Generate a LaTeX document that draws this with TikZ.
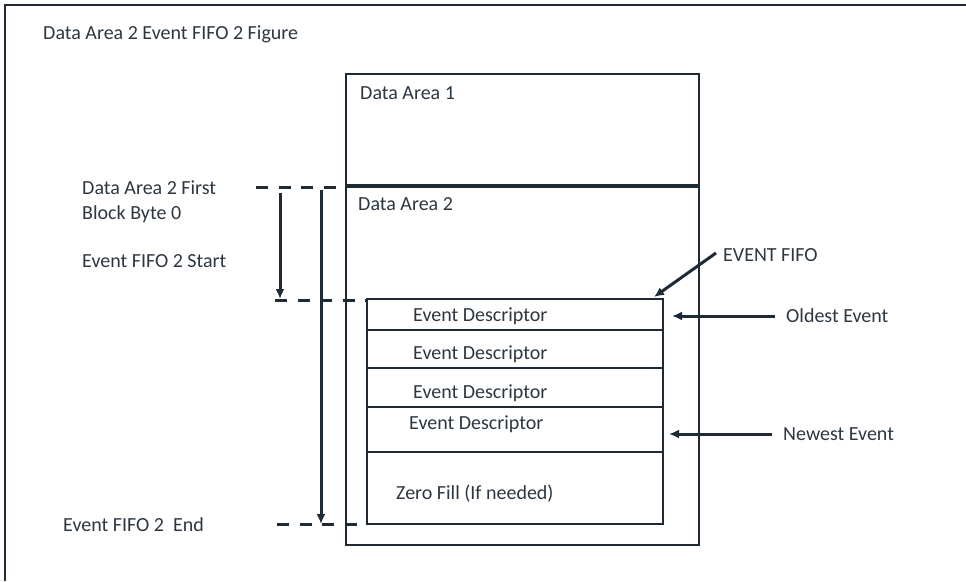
\documentclass[tikz,border=0pt]{standalone}
\usepackage{fontspec}
\setmainfont{Carlito}
\usetikzlibrary{arrows.meta}
\definecolor{ln}{RGB}{30,42,54}
\definecolor{tx}{RGB}{45,55,65}
\begin{document}
\begin{tikzpicture}[x=1pt,y=-1pt,
  lbl/.style={anchor=base west,inner sep=0pt,text=tx,font=\fontsize{20}{24}\selectfont},
  box/.style={draw=ln,line width=2.3pt},
  dsh/.style={draw=ln,line width=3pt,dash pattern=on 12pt off 10.5pt},
  arr/.style={draw=ln,line width=3pt,-{Latex[length=10pt,width=9pt]}}]
\useasboundingbox (0,0) rectangle (966,581);
\fill[white] (0,0) rectangle (966,581);
% outer frame (top and left edges visible)
\draw[ln,line width=2pt] (5,581) -- (5,5) -- (966,5);
\node[lbl] (title) at (43,39.5) {Data Area 2 Event FIFO 2 Figure};
% data areas
\draw[box] (346,74) rectangle (699,186);
\draw[box] (346,186) rectangle (699,545);
\draw[ln,line width=3.5pt] (345,186) -- (700,186);
\coordinate (da2tl) at (346,187);
\coordinate (da2nw) at (346,300);
\node[lbl] (da1) at (360,99.5) {Data Area 1};
\node[lbl] (da2) at (358,210.5) {Data Area 2};
% FIFO box
\coordinate (fnw) at (367,300);
\coordinate (fne) at (663,299);
\coordinate (fsw) at (367,524);
\draw[box] (367,299) rectangle (663,524);
\foreach \yy in {330,368,407,452} \draw[box] (367,\yy) -- (663,\yy);
\node[lbl] (ed1) at (413,321.5) {Event Descriptor};
\node[lbl] (ed2) at (413,359.5) {Event Descriptor};
\node[lbl] (ed3) at (413,398.5) {Event Descriptor};
\node[lbl] (ed4) at (409,429.5) {Event Descriptor};
\node[lbl] (zf) at (396,499.5) {Zero Fill (If needed)};
% left labels
\node[lbl] (l1) at (82,194.5) {Data Area 2 First};
\node[lbl] (l2) at (82,219) {Block Byte 0};
\node[lbl] (l3) at (82,267.5) {Event FIFO 2 Start};
\node[lbl] (l4) at (63,531.5) {Event FIFO 2\ \ End};
% dashed markers
\coordinate (d1s) at (256,187);
\coordinate (d2s) at (275,300);
\coordinate (d3s) at (277,524);
\draw[dsh] (d1s) -- (da2tl);
\draw[dsh] (d2s) -- (fnw);
\draw[dsh] (d3s) -- (fsw);
% vertical arrows
\coordinate (a1s) at (280,193);
\coordinate (a1e) at (280,299);
\draw[arr] (a1s) -- (a1e);
\coordinate (a2s) at (321,190);
\coordinate (a2e) at (321,524);
\draw[arr] (a2s) -- (a2e);
% right labels and arrows
\node[lbl] (ef) at (723,261.5) {EVENT FIFO};
\node[lbl] (old) at (786,322.5) {Oldest Event};
\node[lbl] (new) at (783,440.5) {Newest Event};
\coordinate (efs) at (716,253);
\coordinate (efe) at (654,297);
\draw[arr] (efs) -- (efe);
\coordinate (ols) at (775,316);
\coordinate (ole) at (672,316);
\draw[arr] (ols) -- (ole);
\coordinate (nws) at (772,434);
\coordinate (nwe) at (669,434);
\draw[arr] (nws) -- (nwe);
\end{tikzpicture}
\end{document}
